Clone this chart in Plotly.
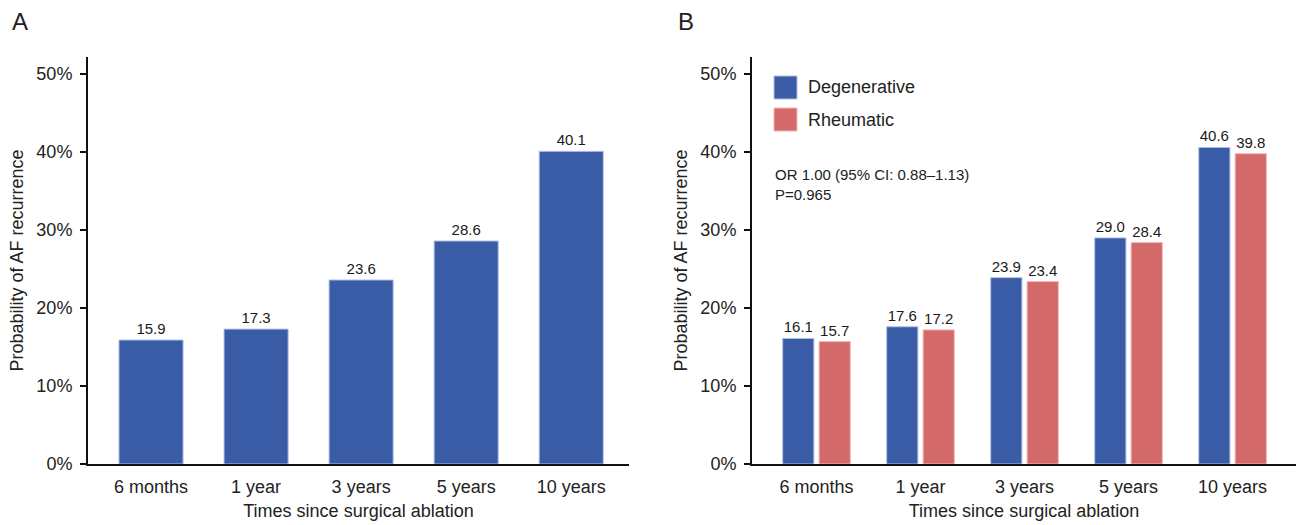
import plotly.graph_objects as go
from plotly.subplots import make_subplots

categories = ["6 months", "1 year", "3 years", "5 years", "10 years"]
overall = [15.9, 17.3, 23.6, 28.6, 40.1]
degenerative = [16.1, 17.6, 23.9, 29.0, 40.6]
rheumatic = [15.7, 17.2, 23.4, 28.4, 39.8]
y_ticks = [0, 10, 20, 30, 40, 50]
y_tick_labels = ["0%", "10%", "20%", "30%", "40%", "50%"]

BLUE = "#3A5BA5"
RED = "#D4696A"
W, H = 1296, 525
AX_FONT = dict(family="Liberation Sans, Arial, sans-serif", size=18, color="#222")
LBL_FONT = dict(family="Liberation Sans, Arial, sans-serif", size=15, color="#1a1a1a")

fig = make_subplots(rows=1, cols=2)

fig.add_trace(go.Bar(
    x=categories, y=overall, width=0.61,
    marker=dict(color=BLUE, line=dict(color="#AFC0E6", width=1)),
    text=overall, texttemplate="%{y:.1f}", textposition="outside",
    textfont=LBL_FONT, cliponaxis=False, showlegend=False,
), row=1, col=1)

fig.add_trace(go.Bar(
    x=categories, y=degenerative, width=0.30, offset=-0.325,
    marker=dict(color=BLUE, line=dict(color="#AFC0E6", width=1)),
    text=degenerative, texttemplate="%{y:.1f}", textposition="outside",
    textfont=LBL_FONT, cliponaxis=False, name="Degenerative", showlegend=False,
), row=1, col=2)

fig.add_trace(go.Bar(
    x=categories, y=rheumatic, width=0.30, offset=0.025,
    marker=dict(color=RED, line=dict(color="#F0B8B8", width=1)),
    text=rheumatic, texttemplate="%{y:.1f}", textposition="outside",
    textfont=LBL_FONT, cliponaxis=False, name="Rheumatic", showlegend=False,
), row=1, col=2)

ydom = [61 / H, 1 - 57 / H]
yrange = [0, 52.2]

panels = [((88, 629), [-0.6, 4.55]), ((752, 1296), [-0.62, 4.61])]
for i, ((x0, x1), xr) in enumerate(panels, start=1):
    xa = "xaxis" if i == 1 else "xaxis2"
    ya = "yaxis" if i == 1 else "yaxis2"
    fig.layout[xa].update(
        domain=[x0 / W, x1 / W], range=xr,
        showline=True, linecolor="#111", linewidth=2, ticks="", showgrid=False,
        tickfont=AX_FONT, zeroline=False, automargin=False, ticklabelstandoff=5,
        title=dict(text="Times since surgical ablation", font=AX_FONT, standoff=9),
    )
    fig.layout[ya].update(
        domain=ydom, range=yrange, tickvals=y_ticks, ticktext=y_tick_labels,
        showline=True, linecolor="#111", linewidth=2, ticks="outside",
        ticklen=6, tickwidth=1.5, tickcolor="#111", showgrid=False, zeroline=False,
        tickfont=AX_FONT, ticklabelstandoff=4, automargin=False,
        title=dict(text="Probability of AF recurrence", font=AX_FONT, standoff=8),
    )

fig.update_layout(
    width=W, height=H, barmode="overlay",
    margin=dict(l=0, r=0, t=0, b=0, autoexpand=False),
    plot_bgcolor="white", paper_bgcolor="white",
    font=AX_FONT,
)

# panel letters
for letter, px in [("A", 20), ("B", 686)]:
    fig.add_annotation(text=letter, x=px / W, y=1 - 22 / H, xref="paper", yref="paper",
                       showarrow=False, xanchor="center", yanchor="middle",
                       font=dict(family="Liberation Sans, Arial, sans-serif", size=24, color="#222"))

# legend (panel B)
for name, color, edge, ytop in [("Degenerative", BLUE, "#AFC0E6", 76), ("Rheumatic", RED, "#F0B8B8", 108)]:
    fig.add_shape(type="rect", xref="paper", yref="paper",
                  x0=774 / W, x1=797 / W, y0=1 - (ytop + 23) / H, y1=1 - ytop / H,
                  fillcolor=color, line=dict(color=edge, width=1))
    fig.add_annotation(text=name, x=806 / W, y=1 - (ytop + 11.5) / H, xref="paper", yref="paper",
                       showarrow=False, xanchor="left", yanchor="middle", font=AX_FONT)

fig.add_annotation(text="OR 1.00 (95% CI: 0.88\u20131.13)<br>P=0.965",
                   x=773 / W, y=1 - 164 / H, xref="paper", yref="paper",
                   showarrow=False, xanchor="left", yanchor="top", align="left",
                   font=dict(family="Liberation Sans, Arial, sans-serif", size=15, color="#222"))

fig.write_html("out.html")
